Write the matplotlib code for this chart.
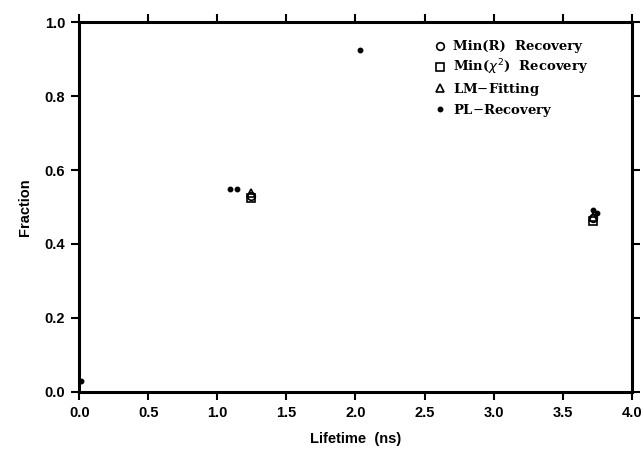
import matplotlib
matplotlib.use("Agg")
import matplotlib.pyplot as plt
import numpy as np

# values
minr_x = [1.24, 3.72]
minr_y = [0.530, 0.470]
minchi_x = [1.24, 3.72]
minchi_y = [0.524, 0.462]
lm_x = [1.24, 3.72]
lm_y = [0.538, 0.472]
pl_x = [0.015, 1.09, 1.14, 2.03, 3.72, 3.745]
pl_y = [0.028, 0.548, 0.548, 0.925, 0.492, 0.484]

x_ticks = np.arange(0, 4.01, 0.5)
y_ticks = np.arange(0, 1.01, 0.2)


def main():
    fig = plt.figure(figsize=(6.44, 4.53), dpi=100)
    ax = fig.add_axes([0.123, 0.135, 0.858, 0.816])

    ax.plot(minr_x, minr_y, "o", mfc="none", mec="black", mew=1.2, ms=5.5,
            label="Min(R)  Recovery")
    ax.plot(minchi_x, minchi_y, "s", mfc="none", mec="black", mew=1.2, ms=5.5,
            label="Min($\\chi^2$)  Recovery")
    ax.plot(lm_x, lm_y, "^", mfc="none", mec="black", mew=1.2, ms=5.5,
            label="LM$-$Fitting")
    ax.plot(pl_x, pl_y, "o", color="black", ms=3.2, label="PL$-$Recovery")

    ax.set_xlim(0, 4.0)
    ax.set_ylim(0, 1.0)
    ax.set_xticks(x_ticks)
    ax.set_yticks(y_ticks)
    ax.set_xticklabels([f"{v:.1f}" for v in x_ticks])
    ax.set_yticklabels([f"{v:.1f}" for v in y_ticks])

    ax.tick_params(direction="out", length=6, width=1.5, top=True, right=True,
                   labelsize=10.5, pad=4)
    for lab in ax.get_xticklabels() + ax.get_yticklabels():
        lab.set_fontweight("bold")
        lab.set_family("Liberation Sans")

    for side in ["left", "bottom", "top", "right"]:
        ax.spines[side].set_linewidth(2.2)

    ax.set_xlabel("Lifetime  (ns)", fontsize=10.5, fontweight="bold",
                  family="Liberation Sans", labelpad=9)
    ax.set_ylabel("Fraction", fontsize=10.5, fontweight="bold",
                  family="Liberation Sans", labelpad=9)

    ax.legend(loc="upper left", frameon=False, handletextpad=0.5,
              handlelength=1.0, borderaxespad=0.0, labelspacing=0.3,
              prop={"family": "DejaVu Serif", "weight": "bold", "size": 9.5},
              bbox_to_anchor=(0.632, 0.965))

    fig.savefig("out.png", dpi=100)
    plt.close(fig)


if __name__ == "__main__":
    main()
